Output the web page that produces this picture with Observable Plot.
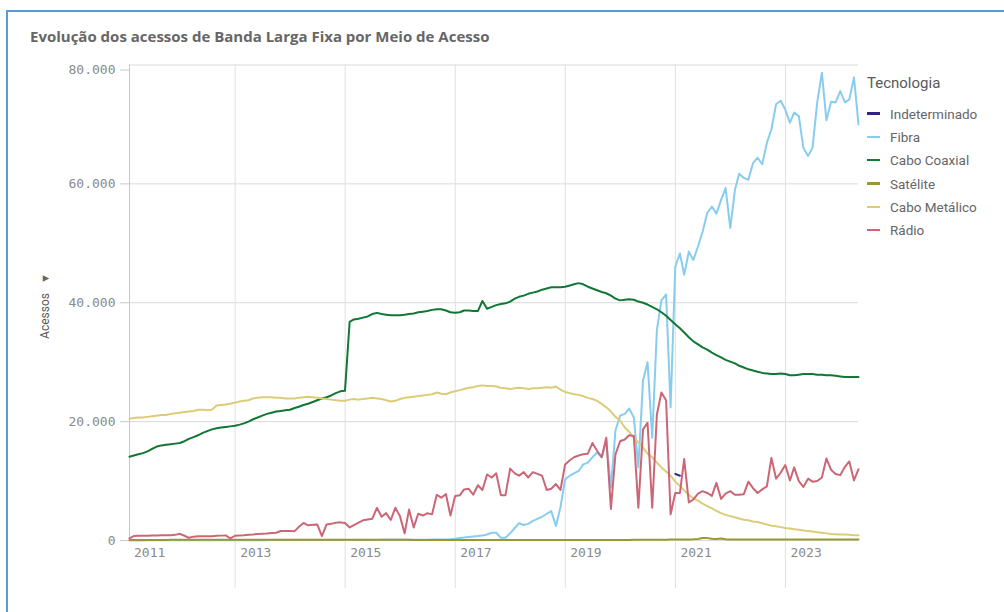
<!DOCTYPE html>
<html>
<head>
<meta charset="utf-8">
<script src="https://cdn.jsdelivr.net/npm/d3@7"></script>
<script src="https://cdn.jsdelivr.net/npm/@observablehq/plot@0.6"></script>
<style>
  html, body { margin: 0; padding: 0; background: #fff; }
  #wrap { position: relative; width: 1004px; height: 612px; overflow: hidden; font-family: Roboto, sans-serif; }
  #frame { position: absolute; left: 6px; top: 10px; width: 1200px; height: 800px; border-left: 2px solid #5b9bd5; border-top: 2px solid #5b9bd5; box-sizing: border-box; }
  #title { position: absolute; left: 30px; top: 26px; font-family: "Open Sans", sans-serif; font-weight: 700; font-size: 15px; color: #666; white-space: nowrap; }
  #chart { position: absolute; left: 0; top: 50px; }
  #ytitle { position: absolute; left: 45px; top: 306px; transform: translate(-50%, -50%) rotate(-90deg); white-space: nowrap; font-size: 12px; color: #595959; }
  #ytitle span { font-size: 11px; margin-left: 9px; color: #666; }
  #legend { position: absolute; left: 867px; top: 72px; }
  #legend .lt { font-size: 15px; color: #595959; height: 22px; line-height: 22px; margin-bottom: 8px; }
  #legend .it { height: 23.3px; display: flex; align-items: center; font-size: 13.5px; color: #666; }
  #legend .sw { width: 13px; height: 2.5px; margin-right: 10px; }
</style>
</head>
<body>
<div id="wrap">
  <div id="frame"></div>
  <div id="title">Evolução dos acessos de Banda Larga Fixa por Meio de Acesso</div>
  <div id="ytitle">Acessos<span>▼</span></div>
  <div id="chart"></div>
  <div id="legend"></div>
</div>
<script>
// ---------- DATA (monthly, Jan 2011 – Apr 2024) ----------
const startYear = 2011;
const monthCount = 160;

const seriesNames = ["Indeterminado", "Fibra", "Cabo Coaxial", "Satélite", "Cabo Metálico", "Rádio"];
const seriesColors = ["#332288", "#88ccee", "#117733", "#999933", "#ddcc77", "#cc6677"];

const indeterminadoMonths = ["2020-12", "2021-01"];
const indeterminado = [11200, 10900];

const fibra = [
  20,20,20,20,30,30,30,30,30,30,30,40,
  40,40,40,40,40,50,50,50,50,50,50,50,
  50,60,60,60,60,60,60,70,70,70,70,70,
  70,70,80,80,80,80,80,90,90,90,90,90,
  90,90,100,100,100,100,100,110,110,110,110,120,
  120,120,130,130,140,140,150,150,160,170,200,300,
  440,500,600,680,740,850,1000,1300,1300,450,450,1200,
  2100,2900,2600,2800,3300,3650,4000,4500,4950,2450,5600,10300,
  10900,11300,11700,12800,13100,14000,14800,14000,16800,8900,18500,21000,
  21300,22200,20700,12300,26900,30000,17300,35400,40400,41400,22400,46100,
  48300,44700,48600,47200,49500,51900,55100,56200,55000,57300,59300,52600,
  59000,61700,61000,60700,63500,64400,63300,66900,69200,73400,74000,72500,
  70300,72000,71400,66100,64700,66100,73700,78700,70700,73800,73700,75600,
  73700,74200,77900,70000
];

const caboCoaxial = [
  14100,14300,14500,14700,15000,15400,15800,16000,16100,16200,16300,16400,
  16700,17100,17400,17700,18100,18400,18700,18900,19000,19100,19200,19300,
  19500,19700,20000,20400,20700,21000,21300,21500,21700,21800,21900,22000,
  22300,22500,22800,23000,23300,23600,23900,24100,24400,24800,25100,25200,
  36800,37200,37300,37500,37700,38100,38300,38100,38000,37900,37900,37900,
  38000,38100,38200,38400,38500,38600,38800,38900,38900,38700,38400,38300,
  38400,38700,38700,38600,38600,40300,39000,39300,39600,39800,39900,40200,
  40700,41000,41200,41500,41700,41900,42200,42400,42600,42600,42600,42700,
  42900,43100,43300,43100,42700,42400,42100,41800,41600,41200,40700,40400,
  40500,40600,40500,40200,40000,39700,39300,38900,38400,37800,37100,36400,
  35700,35000,34200,33500,33000,32500,32100,31600,31200,30800,30400,30100,
  29800,29400,29100,28800,28600,28400,28200,28100,28000,28000,28100,28000,
  27800,27800,27900,28000,28000,28000,27900,27900,27800,27800,27700,27600,
  27500,27500,27500,27500
];

const satelite = [
  90,90,95,95,100,100,100,105,105,110,110,110,
  110,115,115,115,120,120,120,120,125,125,125,125,
  125,125,130,130,130,130,130,130,130,130,130,130,
  130,130,130,130,125,125,125,125,125,120,120,120,
  120,120,120,115,115,115,115,110,110,110,110,110,
  110,110,105,105,105,105,100,100,100,100,100,100,
  100,100,100,100,95,95,95,95,95,95,90,90,
  90,90,90,90,90,90,90,90,90,90,90,90,
  90,90,90,90,90,95,95,95,95,100,100,100,
  100,100,110,110,120,120,130,130,140,140,150,150,
  160,170,180,200,250,420,400,300,250,350,200,170,
  165,165,160,160,160,160,158,158,155,155,155,155,
  155,155,155,150,150,150,150,150,150,150,150,150,
  150,150,150,150
];

const caboMetalico = [
  20500,20600,20700,20700,20800,20900,21000,21100,21100,21300,21400,21500,
  21600,21700,21800,22000,22000,21900,22000,22700,22800,22900,23000,23200,
  23400,23500,23600,23900,24000,24100,24100,24100,24000,24000,23900,23900,
  23900,24000,24100,24200,24100,24000,23900,23800,23700,23600,23500,23500,
  23700,23800,23700,23800,23900,24000,23900,23800,23600,23400,23500,23800,
  24000,24100,24200,24300,24400,24500,24600,24900,24700,24600,24900,25100,
  25300,25500,25700,25800,26000,26100,26000,26000,25900,25700,25600,25500,
  25600,25700,25600,25500,25600,25600,25700,25800,25700,25900,25400,25000,
  24800,24600,24500,24300,24000,23800,23500,23000,22400,21700,20800,20200,
  19000,18300,17200,16500,15600,14600,14000,13100,12300,11600,10900,9900,
  9200,8400,7700,7100,6700,6200,5800,5400,5000,4600,4300,4100,
  3900,3700,3500,3400,3200,3100,2900,2700,2500,2400,2250,2100,
  2000,1900,1800,1700,1600,1500,1400,1300,1200,1100,1050,1000,
  1000,950,900,900
];

const radio = [
  350,750,780,800,820,850,860,870,880,900,950,1120,
  800,450,650,730,720,700,730,780,820,850,340,800,
  850,900,980,1020,1100,1150,1180,1250,1300,1600,1600,1580,
  1570,2300,2950,2550,2650,2700,730,2700,2800,3000,3050,2950,
  2200,2600,3000,3400,3550,3650,5500,4000,4600,3450,5500,4100,
  1200,5200,2200,4500,4200,4600,4400,7700,7200,7800,4200,7500,
  7600,8600,8700,7700,9300,8500,11100,10600,11300,7600,7600,12100,
  11300,10900,11500,10600,11500,11200,10900,8500,8700,9500,8500,12800,
  13500,14000,14300,14500,14600,16400,15100,14000,17300,5300,14500,16700,
  17000,17700,17600,5500,18700,19800,5500,21200,24900,23600,4400,8000,
  8000,13700,6400,6900,7900,8300,8000,7500,9700,7000,7900,8300,
  7700,7700,7800,9900,8800,8000,8600,9100,13900,10400,11400,12700,
  10100,12300,10000,9000,10400,9900,10000,10600,13800,11900,11200,11000,
  12400,13300,10100,12000
];

const yTicks = [0, 20000, 40000, 60000, 80000];
const xTickYears = [2011, 2013, 2015, 2017, 2019, 2021, 2023];

// ---------- BUILD ----------
// each monthly value is dated at the month's end
const monthEnd = (y, m) => new Date(Date.UTC(y, m + 1, 0));
const months = d3.range(monthCount).map(i => monthEnd(startYear, i));

const rows = [];
const monthly = { "Fibra": fibra, "Cabo Coaxial": caboCoaxial, "Satélite": satelite, "Cabo Metálico": caboMetalico, "Rádio": radio };
indeterminadoMonths.forEach((s, i) => {
  const [y, m] = s.split("-").map(Number);
  rows.push({ serie: "Indeterminado", date: monthEnd(y, m - 1), value: indeterminado[i] });
});
for (const name of seriesNames) {
  if (!monthly[name]) continue;
  monthly[name].forEach((v, i) => rows.push({ serie: name, date: months[i], value: v }));
}

const tickDate = y => new Date(Date.UTC(y, 0, 1));
const innerTicks = xTickYears.slice(1).map(tickDate);
const firstTick = [tickDate(xTickYears[0])];
const fmt = d => d3.format(",")(d).replace(/,/g, ".");
const mono = "DejaVu Sans Mono, monospace";

const chart = Plot.plot({
  width: 1004,
  height: 562,
  marginLeft: 129,
  marginRight: 146,
  marginTop: 14.5,
  marginBottom: 72,
  style: { fontFamily: mono, fontSize: "13px", color: "#8a8a8a", background: "transparent" },
  x: { type: "utc", domain: [months[0], months[months.length - 1]], axis: null, label: null },
  y: { domain: [0, 80000], axis: null, label: null },
  color: { domain: seriesNames, range: seriesColors },
  marks: [
    Plot.gridY(yTicks, { stroke: "#d9d9d9", strokeOpacity: 1 }),
    Plot.gridX(innerTicks, { stroke: "#e0e0e0", strokeOpacity: 1 }),
    Plot.axisX(innerTicks, { tickSize: 48, tickFormat: () => "", stroke: "#e0e0e0" }),
    Plot.axisX(innerTicks, { tickSize: 0, tickPadding: 7, textAnchor: "start", dx: 5, tickFormat: d => String(d.getUTCFullYear()), fill: "#8a8a8a", fontFamily: mono, fontSize: 13 }),
    Plot.axisX(firstTick, { tickSize: 0, tickPadding: 7, textAnchor: "start", dx: 9, tickFormat: d => String(d.getUTCFullYear()), fill: "#8a8a8a", fontFamily: mono, fontSize: 13 }),
    Plot.ruleX([months[0]], { stroke: "#c8c8c8" }),
    Plot.axisY(yTicks.slice(0, -1), { tickSize: 9, tickPadding: 5, tickFormat: fmt, stroke: "#c8c8c8", fill: "#8a8a8a", fontFamily: mono, fontSize: 13 }),
    Plot.axisY(yTicks.slice(-1), { tickSize: 9, tickPadding: 5, dy: 5, tickFormat: fmt, stroke: "#c8c8c8", fill: "#8a8a8a", fontFamily: mono, fontSize: 13 }),
    Plot.lineY(rows, { x: "date", y: "value", z: "serie", stroke: "serie", strokeWidth: 2, strokeLinejoin: "round" })
  ]
});
document.getElementById("chart").appendChild(chart);

// legend
const leg = document.getElementById("legend");
const lt = document.createElement("div");
lt.className = "lt";
lt.textContent = "Tecnologia";
leg.appendChild(lt);
seriesNames.forEach((n, i) => {
  const it = document.createElement("div");
  it.className = "it";
  it.innerHTML = `<div class="sw" style="background:${seriesColors[i]}"></div><div>${n}</div>`;
  leg.appendChild(it);
});
</script>
</body>
</html>
